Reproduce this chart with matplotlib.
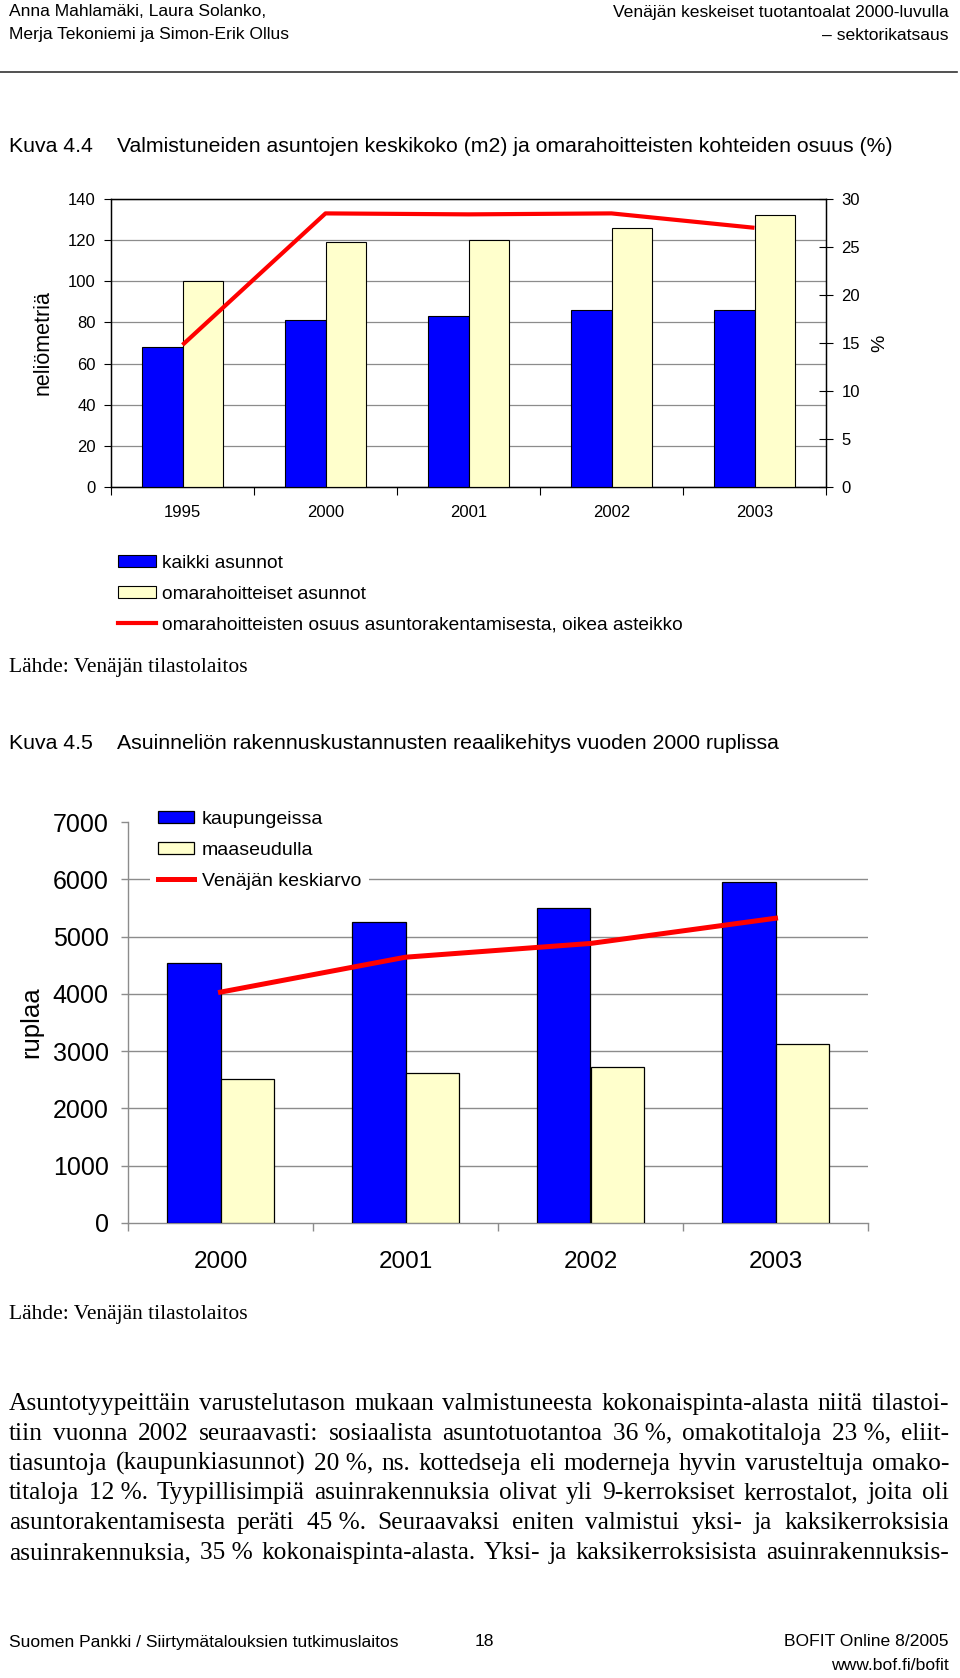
import matplotlib
matplotlib.use("Agg")
import matplotlib.pyplot as plt
import numpy as np
from matplotlib.patches import Patch
from matplotlib.lines import Line2D

# Kuva 4.4 data
years_44 = ["1995", "2000", "2001", "2002", "2003"]
kaikki_asunnot = [68, 81, 83, 86, 86]
omarahoitteiset = [100, 119, 120, 126, 132]
osuus_pct = [14.8, 28.5, 28.4, 28.5, 27.0]

# Kuva 4.5 data
years_45 = ["2000", "2001", "2002", "2003"]
kaupungeissa = [4530, 5260, 5500, 5950]
maaseudulla = [2510, 2620, 2730, 3125]
keskiarvo = [4030, 4640, 4880, 5320]

body_lines = [
    "Asuntotyypeittäin varustelutason mukaan valmistuneesta kokonaispinta-alasta niitä tilastoi-",
    "tiin vuonna 2002 seuraavasti: sosiaalista asuntotuotantoa 36\u00a0%, omakotitaloja 23\u00a0%, eliit-",
    "tiasuntoja (kaupunkiasunnot) 20\u00a0%, ns. kottedseja eli moderneja hyvin varusteltuja omako-",
    "titaloja 12\u00a0%. Tyypillisimpiä asuinrakennuksia olivat yli 9-kerroksiset kerrostalot, joita oli",
    "asuntorakentamisesta peräti 45\u00a0%. Seuraavaksi eniten valmistui yksi- ja kaksikerroksisia",
    "asuinrakennuksia, 35\u00a0% kokonaispinta-alasta. Yksi- ja kaksikerroksisista asuinrakennuksis-",
]

BLUE = "#0000FF"
CREAM = "#FFFFCC"
RED = "#FF0000"
GRID = "#8c8c8c"

SANS = ["Liberation Sans", "DejaVu Sans"]
SERIF = ["Liberation Serif", "DejaVu Serif"]

plt.rcParams["font.family"] = SANS

W, H = 960, 1678
fig = plt.figure(figsize=(W / 100, H / 100), dpi=100)


def fx(x):
    return x / W


def fy(y):
    return 1 - y / H


def box(x0, y_top, x1, y_bot):
    return [fx(x0), fy(y_bot), (x1 - x0) / W, (y_bot - y_top) / H]


# ---- page header ----
HF = 12.6
fig.text(fx(9), fy(12), "Anna Mahlamäki, Laura Solanko,", fontsize=HF, va="center")
fig.text(fx(9), fy(35), "Merja Tekoniemi ja Simon-Erik Ollus", fontsize=HF, va="center")
fig.text(fx(949), fy(12), "Venäjän keskeiset tuotantoalat 2000-luvulla", fontsize=HF,
         va="center", ha="right")
fig.text(fx(949), fy(35), "\u2013 sektorikatsaus", fontsize=HF, va="center", ha="right")
fig.add_artist(Line2D([0, fx(957)], [fy(72), fy(72)], color="#333333", lw=1.2))

# ---- Kuva 4.4 ----
TF = 15.3
fig.text(fx(9), fy(147), "Kuva 4.4", fontsize=TF, va="center")
fig.text(fx(117), fy(147), "Valmistuneiden asuntojen keskikoko (m2) ja omarahoitteisten kohteiden osuus (%)",
         fontsize=TF, va="center")

ax1 = fig.add_axes(box(111, 199, 826, 487))
n1 = len(years_44)
c1 = np.arange(n1) + 0.5
w1 = 0.285
ax1.bar(c1 - w1 / 2, kaikki_asunnot, w1, color=BLUE, edgecolor="black", lw=0.8, zorder=3)
ax1.bar(c1 + w1 / 2, omarahoitteiset, w1, color=CREAM, edgecolor="black", lw=0.8, zorder=3)
ax1.set_xlim(0, n1)
ax1.set_ylim(0, 140)
ax1.set_yticks(np.arange(0, 141, 20))
ax1.yaxis.grid(True, color=GRID, lw=0.9, zorder=0)
ax1.set_axisbelow(True)
ax1.set_xticks(np.arange(n1 + 1))
ax1.set_xticklabels([])
ax1.set_xticks(c1, minor=True)
ax1.set_xticklabels(years_44, minor=True)
ax1.tick_params(axis="x", which="major", direction="out", length=6, color="black", width=0.8)
ax1.tick_params(axis="x", which="minor", length=0, pad=13, labelsize=12)
ax1.tick_params(axis="y", direction="out", length=5, width=0.8, pad=6, labelsize=12)
for s in ax1.spines.values():
    s.set_color("black")
    s.set_linewidth(1.0)
ax1.set_ylabel("neliömetriä", fontsize=15.5, labelpad=10)

ax1r = ax1.twinx()
ax1r.plot(c1, osuus_pct, color=RED, lw=3.0, solid_capstyle="butt", zorder=4)
ax1r.set_ylim(0, 30)
ax1r.set_yticks(np.arange(0, 31, 5))
ax1r.tick_params(axis="y", direction="inout", length=10, width=0.8, pad=6, labelsize=12)
ax1r.set_ylabel("%", fontsize=14, labelpad=8)

handles1 = [
    Patch(facecolor=BLUE, edgecolor="black", lw=0.8),
    Patch(facecolor=CREAM, edgecolor="black", lw=0.8),
    Line2D([], [], color=RED, lw=3.0),
]
labels1 = ["kaikki asunnot", "omarahoitteiset asunnot",
           "omarahoitteisten osuus asuntorakentamisesta, oikea asteikko"]
fig.legend(handles1, labels1, loc="upper left", bbox_to_anchor=(fx(118), fy(555)),
           frameon=False, fontsize=13.8, handlelength=2.0, handleheight=0.62,
           handletextpad=0.3, labelspacing=0.72, borderpad=0, borderaxespad=0)

fig.text(fx(9), fy(667), "Lähde: Venäjän tilastolaitos", family=SERIF, fontsize=15.5, va="center")

# ---- Kuva 4.5 ----
fig.text(fx(9), fy(743), "Kuva 4.5", fontsize=TF, va="center")
fig.text(fx(117), fy(743), "Asuinneliön rakennuskustannusten reaalikehitys vuoden 2000 ruplissa",
         fontsize=TF, va="center")

ax2 = fig.add_axes(box(128, 822, 868, 1223))
n2 = len(years_45)
c2 = np.arange(n2) + 0.5
w2 = 0.29
b_k = ax2.bar(c2 - w2 / 2, kaupungeissa, w2, color=BLUE, edgecolor="black", lw=0.9, zorder=3)
b_m = ax2.bar(c2 + w2 / 2, maaseudulla, w2, color=CREAM, edgecolor="black", lw=0.9, zorder=3)
l_v, = ax2.plot(c2, keskiarvo, color=RED, lw=3.6, zorder=4)
ax2.set_xlim(0, n2)
ax2.set_ylim(0, 7000)
ax2.set_yticks(np.arange(0, 7001, 1000))
for v in range(1000, 7000, 1000):
    ax2.axhline(v, color=GRID, lw=1.0, zorder=1)
ax2.set_xticks(np.arange(n2 + 1))
ax2.set_xticklabels([])
ax2.set_xticks(c2, minor=True)
ax2.set_xticklabels(years_45, minor=True)
ax2.tick_params(axis="x", which="major", direction="out", length=6, color=GRID, width=1.0)
ax2.tick_params(axis="x", which="minor", length=0, pad=20, labelsize=17.5)
ax2.tick_params(axis="y", direction="out", length=5, color=GRID, width=1.0, pad=9, labelsize=18)
ax2.spines["top"].set_visible(False)
ax2.spines["right"].set_visible(False)
for s in ("left", "bottom"):
    ax2.spines[s].set_color(GRID)
    ax2.spines[s].set_linewidth(1.0)
ax2.set_ylabel("ruplaa", fontsize=18.5, labelpad=7)
leg2 = ax2.legend([b_k, b_m, l_v], ["kaupungeissa", "maaseudulla", "Venäjän keskiarvo"],
                  loc="upper left", bbox_to_anchor=(fx(150), fy(803)), bbox_transform=fig.transFigure,
                  frameon=True, fancybox=False, edgecolor="none", facecolor="white", framealpha=1,
                  fontsize=14, handlelength=1.85, handleheight=0.6, handletextpad=0.4,
                  labelspacing=0.72, borderpad=0.4, borderaxespad=0)
leg2.set_zorder(5)

fig.text(fx(9), fy(1314), "Lähde: Venäjän tilastolaitos", family=SERIF, fontsize=15.5, va="center")

# ---- body paragraph, justified ----
renderer = fig.canvas.get_renderer()
x_left, x_right = 9, 949
for i, line in enumerate(body_lines):
    y = 1410 + i * 29.8
    words = line.split(" ")
    texts = [fig.text(0, fy(y), wd, family=SERIF, fontsize=18.3, va="baseline") for wd in words]
    widths = [t.get_window_extent(renderer).width for t in texts]
    gap = (x_right - x_left - sum(widths)) / (len(words) - 1)
    x = x_left
    for t, wd in zip(texts, widths):
        t.set_x(fx(x))
        x += wd + gap

# ---- page footer ----
fig.text(fx(9), fy(1642), "Suomen Pankki / Siirtymätalouksien tutkimuslaitos", fontsize=HF, va="center")
fig.text(fx(484), fy(1642), "18", fontsize=HF, va="center", ha="center")
fig.text(fx(949), fy(1642), "BOFIT Online 8/2005", fontsize=HF, va="center", ha="right")
fig.text(fx(949), fy(1665), "www.bof.fi/bofit", fontsize=HF, va="center", ha="right")

fig.savefig("out.png", dpi=100)
